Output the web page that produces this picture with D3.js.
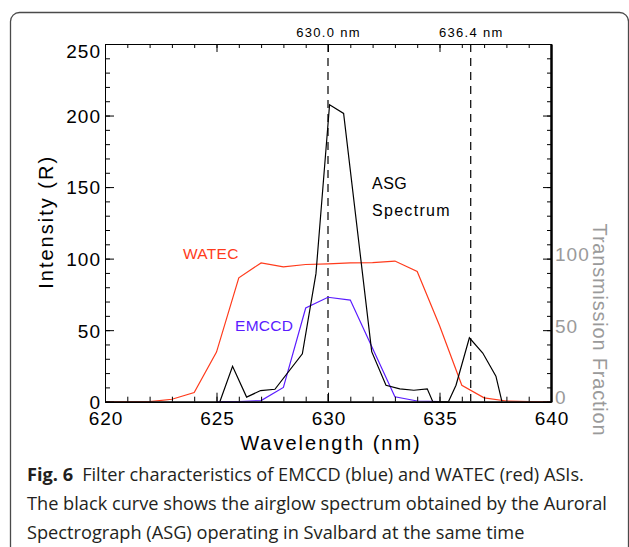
<!DOCTYPE html>
<html>
<head>
<meta charset="utf-8">
<script src="https://cdn.jsdelivr.net/npm/d3@7"></script>
<style>
  body { margin: 0; background: #fff; }
  svg { display: block; }
</style>
</head>
<body>
<svg id="fig" width="629" height="547"></svg>
<script>
// Axis ticks
const wavelengthTicks = [620, 625, 630, 635, 640];
const intensityTicks = [0, 50, 100, 150, 200, 250];
const transmissionTicks = [0, 50, 100];

// WATEC filter transmission (%)
const watecWl = [620, 621, 622, 623, 624, 625, 626, 627, 628, 629, 630, 631, 632, 633, 634, 635, 636, 637, 638, 639, 640];
const watecT  = [0, 0, 0, 1.7, 6.4, 34.7, 86.6, 97, 94.3, 95.9, 96.3, 97, 97.2, 98.3, 91, 53.3, 11.5, 2.7, 0.5, 0, 0];

// EMCCD filter transmission (%)
const emccdWl = [625, 626, 627, 628, 629, 630, 631, 633, 634, 635];
const emccdT  = [0, 0, 0.8, 10, 65.5, 73, 71, 3.4, 0.5, 0];

// ASG airglow spectrum (R)
const asgWl = [625.15, 625.72, 626.35, 626.98, 627.62, 628.85, 629.46, 630.07, 630.70, 631.96, 632.60, 633.22, 633.85, 634.45, 634.70, 635.40, 635.74, 636.34, 636.94, 637.53, 637.80];
const asgR  = [0, 24.7, 3.2, 7.8, 8.7, 33.5, 89.5, 207.5, 201.5, 35, 11.5, 9, 8, 9, 0, 0, 11.5, 44.7, 34, 17.8, 0];

// Emission line markers
const markerWl = [630.0, 636.4];
const markerLabels = ["630.0 nm", "636.4 nm"];

// Caption
const captionBold = "Fig. 6";
const captionLines = [
  "Filter characteristics of EMCCD (blue) and WATEC (red) ASIs.",
  "The black curve shows the airglow spectrum obtained by the Auroral",
  "Spectrograph (ASG) operating in Svalbard at the same time"
];

const svg = d3.select("#fig");
const plotFont = "'Liberation Sans', Arial, sans-serif";
const RED = "#ff3b1c", BLUE = "#5a1cff", GREY = "#9a9a9a";

// Outer rounded frame
svg.append("rect")
  .attr("x", 10.5).attr("y", 12.5).attr("width", 618).attr("height", 580)
  .attr("rx", 9).attr("fill", "#fff").attr("stroke", "#4a4a4a").attr("stroke-width", 1.3);

const x = d3.scaleLinear().domain([620, 640]).range([105, 551]);
const y = d3.scaleLinear().domain([0, 250]).range([401.7, 44]);

svg.append("clipPath").attr("id", "plotClip")
  .append("rect").attr("x", x(620)).attr("y", y(250)).attr("width", x(640) - x(620)).attr("height", y(0) - y(250));

const plot = svg.append("g").attr("clip-path", "url(#plotClip)");

// Dashed emission line markers
plot.selectAll("line.marker").data(markerWl).join("line")
  .attr("class", "marker")
  .attr("x1", d => x(d)).attr("x2", d => x(d))
  .attr("y1", y(250)).attr("y2", y(0))
  .attr("stroke", "#000").attr("stroke-width", 1.2).attr("stroke-dasharray", "8,6");

svg.selectAll("text.markerLabel").data(markerWl).join("text")
  .attr("class", "markerLabel")
  .attr("x", d => x(d) + 0.6).attr("y", 37)
  .attr("text-anchor", "middle")
  .attr("font-family", plotFont).attr("font-size", 13).attr("letter-spacing", 1.3)
  .text((d, i) => markerLabels[i]);

const line = d3.line().x(d => x(d[0])).y(d => y(d[1]));
const series = [
  { wl: watecWl, v: watecT, color: RED },
  { wl: emccdWl, v: emccdT, color: BLUE },
  { wl: asgWl, v: asgR, color: "#000" }
];
series.forEach(s => {
  plot.append("path")
    .datum(d3.zip(s.wl, s.v))
    .attr("d", line)
    .attr("fill", "none").attr("stroke", s.color).attr("stroke-width", 1.2)
    .attr("stroke-linejoin", "miter");
});

// Axes
function styleAxis(g, width) {
  g.select(".domain").attr("stroke", "#000").attr("stroke-width", width);
  g.selectAll(".tick line").attr("stroke", "#000").attr("stroke-width", 1);
}

const minorWl = d3.range(620, 640.01, 1);
const minorInt = d3.range(0, 250.01, 10);

// left
svg.append("g").attr("transform", `translate(${x(620)},0)`)
  .call(d3.axisLeft(y).tickValues(minorInt).tickSizeInner(-5).tickSizeOuter(0).tickFormat(""))
  .call(g => styleAxis(g, 1));
const leftAxis = svg.append("g").attr("transform", `translate(${x(620)},0)`)
  .call(d3.axisLeft(y).tickValues(intensityTicks).tickSizeInner(-9).tickSizeOuter(0).tickPadding(4))
  .call(g => styleAxis(g, 1));
leftAxis.selectAll("text")
  .attr("font-family", plotFont).attr("font-size", 19).attr("letter-spacing", 1).attr("fill", "#000")
  .attr("dy", d => d === 250 ? "0.7em" : "0.36em");

// right
svg.append("g").attr("transform", `translate(${x(640)},0)`)
  .call(d3.axisRight(y).tickValues(minorInt).tickSizeInner(-4).tickSizeOuter(0).tickFormat(""))
  .call(g => styleAxis(g, 2));
const rightAxis = svg.append("g").attr("transform", `translate(${x(640)},0)`)
  .call(d3.axisRight(y).tickValues(intensityTicks).tickSizeInner(-8).tickSizeOuter(0).tickPadding(4)
    .tickFormat(d => transmissionTicks.includes(d) ? d : ""))
  .call(g => styleAxis(g, 2));
rightAxis.selectAll("text")
  .attr("font-family", plotFont).attr("font-size", 19).attr("letter-spacing", 1).attr("fill", GREY)
  .attr("dy", "0.12em");

// bottom
svg.append("g").attr("transform", `translate(0,${y(0)})`)
  .call(d3.axisBottom(x).tickValues(minorWl).tickSizeInner(-5).tickSizeOuter(0).tickFormat(""))
  .call(g => styleAxis(g, 1.6));
const bottomAxis = svg.append("g").attr("transform", `translate(0,${y(0)})`)
  .call(d3.axisBottom(x).tickValues(wavelengthTicks).tickSizeInner(-9).tickSizeOuter(0).tickPadding(10))
  .call(g => styleAxis(g, 1.6));
bottomAxis.selectAll("text")
  .attr("font-family", plotFont).attr("font-size", 19).attr("letter-spacing", 1).attr("fill", "#000")
  .attr("dx", "0.5");

// top
svg.append("g").attr("transform", `translate(0,${y(250)})`)
  .call(d3.axisTop(x).tickValues(minorWl).tickSizeInner(-4).tickSizeOuter(0).tickFormat(""))
  .call(g => styleAxis(g, 1));
svg.append("g").attr("transform", `translate(0,${y(250)})`)
  .call(d3.axisTop(x).tickValues(wavelengthTicks).tickSizeInner(-8).tickSizeOuter(0).tickFormat(""))
  .call(g => styleAxis(g, 1));

// Axis titles
svg.append("text")
  .attr("transform", `translate(${(x(620) + x(640)) / 2 + 3},450)`)
  .attr("text-anchor", "middle")
  .attr("font-family", plotFont).attr("font-size", 20).attr("letter-spacing", 2)
  .text("Wavelength (nm)");

svg.append("text")
  .attr("transform", `translate(53,${(y(0) + y(250)) / 2 - 1}) rotate(-90)`)
  .attr("text-anchor", "middle")
  .attr("font-family", plotFont).attr("font-size", 20).attr("letter-spacing", 2)
  .text("Intensity (R)");

svg.append("text")
  .attr("transform", `translate(593,${330}) rotate(90)`)
  .attr("text-anchor", "middle")
  .attr("font-family", plotFont).attr("font-size", 20).attr("letter-spacing", 0.8)
  .attr("fill", GREY)
  .text("Transmission Fraction");

// Series labels
const seriesLabel = (txt, px, py, color, size, ls) =>
  svg.append("text").attr("x", px).attr("y", py)
    .attr("font-family", plotFont).attr("font-size", size).attr("letter-spacing", ls)
    .attr("fill", color).text(txt);
seriesLabel("WATEC", 183, 259, RED, 15.5, 0.3);
seriesLabel("EMCCD", 235, 331, BLUE, 15.5, 0.3);
seriesLabel("ASG", 372, 189, "#000", 16, 0.5);
seriesLabel("Spectrum", 372, 216, "#000", 16, 1.3);

// Caption
const capFont = "'Open Sans', 'Noto Sans', sans-serif";
const capSize = 18.2;
const capX = 27, capY = [481, 510, 538.5];
const cap1 = svg.append("text").attr("x", capX).attr("y", capY[0])
  .attr("font-family", capFont).attr("font-size", capSize).attr("fill", "#231f20");
cap1.append("tspan").attr("font-weight", "bold").text(captionBold);
cap1.append("tspan").attr("dx", 9).text(captionLines[0]);
svg.append("text").attr("x", capX).attr("y", capY[1])
  .attr("font-family", capFont).attr("font-size", capSize).attr("fill", "#231f20")
  .text(captionLines[1]);
svg.append("text").attr("x", capX).attr("y", capY[2])
  .attr("font-family", capFont).attr("font-size", capSize).attr("fill", "#231f20")
  .text(captionLines[2]);
</script>
</body>
</html>
